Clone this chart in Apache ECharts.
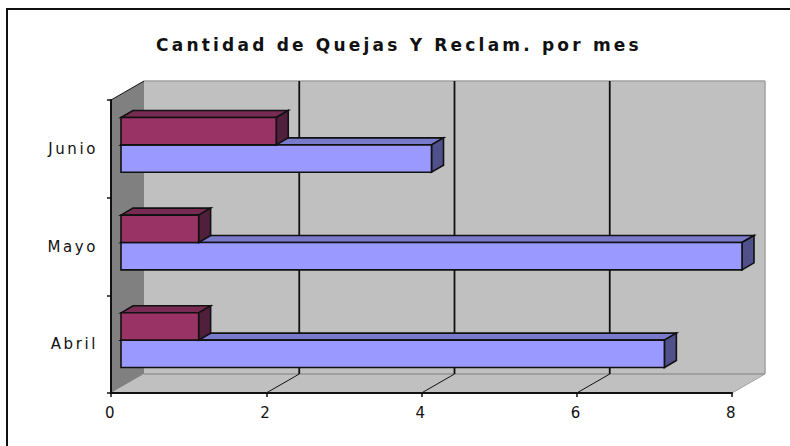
<!DOCTYPE html>
<html>
<head>
<meta charset="utf-8">
<script src="https://cdn.jsdelivr.net/npm/echarts@6/dist/echarts.min.js"></script>
<style>
  html, body { margin: 0; padding: 0; background: #fff; }
  #chart { width: 790px; height: 446px; }
  /* the original picture is stretched sideways, so text gets extra spacing */
  #chart text { letter-spacing: 2.6px; }
  #chart text[style*="bold"] { letter-spacing: 3.2px; }
</style>
</head>
<body>
<div id="chart"></div>
<script>
const categories = ['Abril', 'Mayo', 'Junio']
const reclamos = [7, 8, 4]
const quejas = [1, 1, 2]
const tickValues = [0, 2, 4, 6, 8]

/* fake 3D depth, in pixels */
const DEPTH_X = 33
const DEPTH_Y = 19
const BOX_X = 12
const BOX_Y = 7
const BAR_SHIFT_X = 10
const BAR_SHIFT_Y = -4
const BAR_BAND = 0.28

const myChart = echarts.init(document.getElementById('chart'), null, { renderer: 'svg' })

function poly(points, fill, stroke, width) {
  return {
    type: 'polygon',
    shape: { points },
    style: { fill, stroke: stroke || 'none', lineWidth: width || 0 }
  }
}

function seg(x1, y1, x2, y2, stroke, width) {
  return {
    type: 'line',
    shape: { x1, y1, x2, y2 },
    style: { stroke, lineWidth: width || 1 }
  }
}

/* walls and floor behind the bars */
function renderWalls(params, api) {
  const cs = params.coordSys
  const left = cs.x
  const right = cs.x + cs.width
  const top = cs.y
  const bottom = cs.y + cs.height
  const children = [
    poly([[left + DEPTH_X, top - DEPTH_Y], [right + DEPTH_X, top - DEPTH_Y], [right + DEPTH_X, bottom - DEPTH_Y], [left + DEPTH_X, bottom - DEPTH_Y]], '#c0c0c0'),
    poly([[left, bottom], [left + DEPTH_X, bottom - DEPTH_Y], [right + DEPTH_X, bottom - DEPTH_Y], [right, bottom]], '#c0c0c0'),
    poly([[left, top], [left + DEPTH_X, top - DEPTH_Y], [left + DEPTH_X, bottom - DEPTH_Y], [left, bottom]], '#808080'),
    seg(left + DEPTH_X, top - DEPTH_Y, right + DEPTH_X, top - DEPTH_Y, '#a0a0a0', 1.5),
    seg(right + DEPTH_X, top - DEPTH_Y, right + DEPTH_X, bottom - DEPTH_Y, '#a0a0a0', 1.5),
    seg(left + DEPTH_X, bottom - DEPTH_Y, right + DEPTH_X, bottom - DEPTH_Y, '#a0a0a0', 2),
    seg(right, bottom, right + DEPTH_X, bottom - DEPTH_Y, '#a0a0a0', 1),
    seg(left, top, left + DEPTH_X, top - DEPTH_Y, '#111', 1)
  ]
  tickValues.slice(1, -1).forEach(function (v) {
    const x = api.coord([v, 0])[0]
    children.push(seg(x + DEPTH_X, top - DEPTH_Y, x + DEPTH_X, bottom - DEPTH_Y, '#111', 1.8))
    children.push(seg(x, bottom, x + DEPTH_X, bottom - DEPTH_Y, '#111', 1))
  })
  return { type: 'group', children }
}

/* one 3D box: front, top and side faces */
function renderBox(front, topFace, sideFace, slot) {
  return function (params, api) {
    const start = api.coord([0, api.value(1)])
    const end = api.coord([api.value(0), api.value(1)])
    const band = api.size([0, 1])[1] * BAR_BAND
    const x0 = start[0] + BAR_SHIFT_X
    const x1 = end[0] + BAR_SHIFT_X
    const y0 = start[1] + BAR_SHIFT_Y + slot * band
    const y1 = y0 + band
    const line = '#111'
    return {
      type: 'group',
      children: [
        poly([[x0, y0], [x0 + BOX_X, y0 - BOX_Y], [x1 + BOX_X, y0 - BOX_Y], [x1, y0]], topFace, line, 1.6),
        poly([[x1, y0], [x1 + BOX_X, y0 - BOX_Y], [x1 + BOX_X, y1 - BOX_Y], [x1, y1]], sideFace, line, 1.6),
        poly([[x0, y0], [x1, y0], [x1, y1], [x0, y1]], front, line, 1.6)
      ]
    }
  }
}

const option = {
  backgroundColor: '#ffffff',
  animation: false,
  title: {
    text: 'Cantidad de Quejas Y Reclam. por mes',
    left: 394,
    top: 31,
    textAlign: 'center',
    textStyle: {
      fontFamily: 'DejaVu Sans',
      fontWeight: 'bold',
      fontSize: 17,
      color: '#111'
    }
  },
  /*marco de la imagen*/
  graphic: [
    { type: 'line', shape: { x1: 7, y1: 8, x2: 7, y2: 446 }, style: { stroke: '#111', lineWidth: 2 } },
    { type: 'line', shape: { x1: 6, y1: 9, x2: 790, y2: 9 }, style: { stroke: '#111', lineWidth: 2 } }
  ],
  grid: { left: 111, top: 100, width: 621, height: 293 },
  xAxis: {
    type: 'value',
    min: 0,
    max: 8,
    interval: 2,
    z: 10,
    splitLine: { show: false },
    axisLine: { show: true, lineStyle: { color: '#111', width: 2 } },
    axisTick: { show: true, length: 4, lineStyle: { color: '#111', width: 1.5 } },
    axisLabel: { margin: 12, fontFamily: 'DejaVu Sans', fontSize: 15, color: '#111' }
  },
  yAxis: {
    type: 'category',
    data: categories,
    z: 10,
    axisLine: { show: true, lineStyle: { color: '#111', width: 2 } },
    axisTick: { show: true, length: 4, lineStyle: { color: '#111', width: 1.5 } },
    axisLabel: { margin: 13, padding: [3, 0, 0, 0], fontFamily: 'DejaVu Sans', fontSize: 15, color: '#111' }
  },
  series: [
    { type: 'custom', name: 'Fondo', z: 1, silent: true, renderItem: renderWalls, data: [[0, 0]] },
    {
      type: 'custom',
      name: 'Reclamos',
      z: 2,
      renderItem: renderBox('#9999ff', '#7a7acc', '#50508a', 0),
      encode: { x: 0, y: 1 },
      data: reclamos.map((v, i) => [v, i])
    },
    {
      type: 'custom',
      name: 'Quejas',
      z: 3,
      renderItem: renderBox('#993366', '#772a52', '#4f1f3c', -1),
      encode: { x: 0, y: 1 },
      data: quejas.map((v, i) => [v, i])
    }
  ]
}
myChart.setOption(option)
</script>
</body>
</html>
